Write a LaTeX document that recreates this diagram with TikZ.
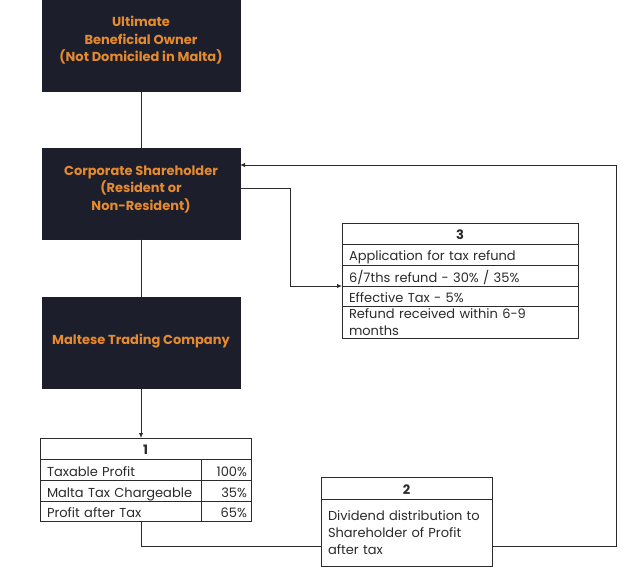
\documentclass[tikz,border=0pt]{standalone}
\usepackage{fontspec}
\setmainfont{Poppins}
\usetikzlibrary{arrows.meta}
\definecolor{boxfill}{HTML}{1C1E2B}
\definecolor{orangetxt}{HTML}{E58A2E}
\definecolor{linec}{HTML}{2B2B2B}
\definecolor{txtc}{HTML}{2A2A2A}
\tikzset{
  darkbox/.style={fill=boxfill, draw=boxfill, minimum width=198pt, minimum height=91pt,
    anchor=north west, inner sep=0pt, outer sep=0pt},
  boxtext/.style={text=orangetxt, font=\fontsize{13}{17.5}\selectfont\bfseries, align=center, inner sep=0pt},
  hcell/.style={draw=linec, line width=0.9pt, font=\fontsize{13}{16}\selectfont\bfseries, text=txtc,
    anchor=north west, inner sep=0pt, outer sep=0pt, align=center, text height=14pt, text depth=2pt},
  lcell/.style={draw=linec, line width=0.9pt, font=\fontsize{13}{16.5}\selectfont, text=txtc,
    anchor=north west, inner xsep=7pt, inner ysep=0pt, outer sep=0pt, align=left},
  one/.style={text height=15pt, text depth=2pt},
  rcell/.style={draw=linec, line width=0.9pt, font=\fontsize{13}{16}\selectfont, text=txtc,
    anchor=north west, inner xsep=4pt, inner ysep=0pt, outer sep=0pt, align=right, text height=15pt, text depth=2pt},
  conn/.style={draw=linec, line width=0.9pt},
  arr/.style={conn, -{Latex[length=5pt,width=4.5pt]}}
}
\begin{document}
\begin{tikzpicture}[x=1pt,y=-1pt]
\useasboundingbox (0,0) rectangle (640,572);
% dark boxes
\node[darkbox] (ubo) at (42,0) {};
\node[boxtext] (ubot) at ([yshift=5pt]ubo.center) {Ultimate\\Beneficial Owner\\(Not Domiciled in Malta)};
\node[darkbox] (cs) at (42,148) {};
\node[boxtext] (cst) at ([yshift=4pt]cs.center) {Corporate Shareholder\\(Resident or\\Non-Resident)};
\node[darkbox] (mtc) at (42,297) {};
\node[boxtext] (mtct) at ([yshift=1.5pt]mtc.center) {Maltese Trading Company};
% table 1
\node[hcell, minimum width=211pt, minimum height=21pt] (t1h) at (40,438) {1};
\node[lcell, one, text width=147pt, minimum height=21pt] (t1a) at (40,459) {Taxable Profit};
\node[rcell, text width=42pt, minimum height=21pt] (t1av) at (201,459) {100\%};
\node[lcell, one, text width=147pt, minimum height=21pt] (t1b) at (40,480) {Malta Tax Chargeable};
\node[rcell, text width=42pt, minimum height=21pt] (t1bv) at (201,480) {35\%};
\node[lcell, one, text width=147pt, minimum height=20pt] (t1c) at (40,501) {Profit after Tax};
\node[rcell, text width=42pt, minimum height=20pt] (t1cv) at (201,501) {65\%};
% box 2
\node[hcell, minimum width=171pt, minimum height=22pt] (b2h) at (321,477) {2};
\node[lcell, text width=157pt, minimum height=67pt, font=\fontsize{13}{17}\selectfont] (b2) at (321,499) {Dividend distribution to\\Shareholder of Profit\\after tax};
% table 3
\node[hcell, minimum width=236pt, minimum height=21pt] (t3h) at (342,223) {3};
\node[lcell, one, text width=222pt, minimum height=21pt] (t3a) at (342,244) {Application for tax refund};
\node[lcell, one, text width=222pt, minimum height=21pt] (t3b) at (342,265) {6/7ths refund - 30\% / 35\%};
\node[lcell, one, text width=222pt, minimum height=20pt] (t3c) at (342,286) {Effective Tax - 5\%};
\node[lcell, text width=222pt, minimum height=32pt] (t3d) at (342,306) {Refund received within 6-9\\months};
% connector points
\coordinate (j1) at (141,546);
\coordinate (c1) at (616,546);
\coordinate (csin) at (240,165);
\coordinate (csout) at (240,188);
\coordinate (k1) at (290,286);
% connectors
\draw[conn] (ubo.south) -- (cs.north);
\draw[conn] (cs.south) -- (mtc.north);
\draw[arr] (mtc.south) -- (mtc.south |- t1h.north);
\draw[conn] (mtc.south |- t1c.south) |- (b2.west |- j1);
\draw[arr] (b2.east |- j1) -- (c1) |- (csin);
\draw[arr] (csout) -| (k1) -- (t3c.north west);
\end{tikzpicture}
\end{document}
